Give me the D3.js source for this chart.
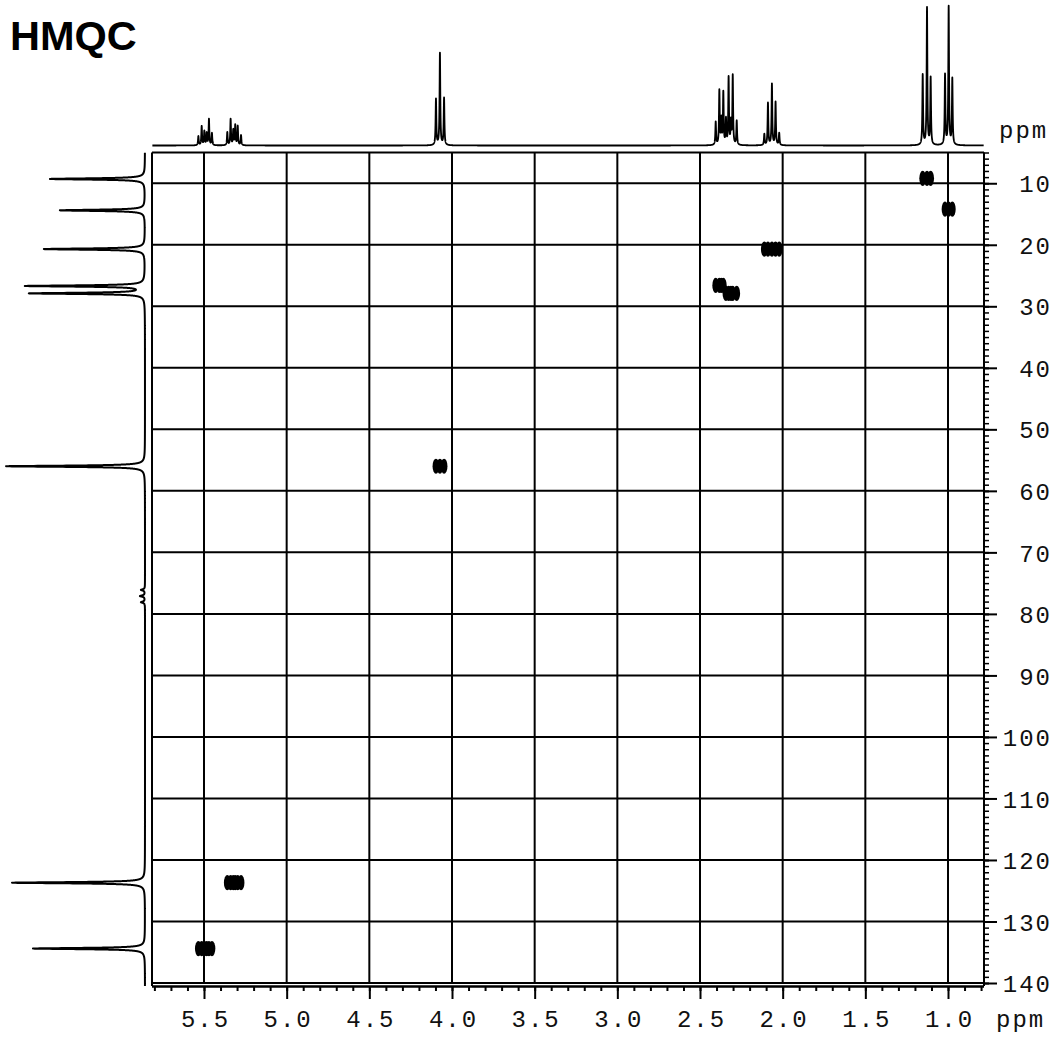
<!DOCTYPE html>
<html><head><meta charset="utf-8">
<script src="https://cdn.jsdelivr.net/npm/d3@7"></script>
<style>body{margin:0;background:#fff}</style>
</head><body>
<svg id="c" width="1064" height="1046"></svg>
<script>
// ---------------- DATA ----------------
const chartTitle = "HMQC";
const unitLabel = "ppm";
// 1H multiplets: line positions (ppm) and intensities
const h549Lines = [5.534, 5.514, 5.498, 5.484, 5.470, 5.452];
const h549Ints  = [9, 19, 14, 12, 26, 12];
const h533Lines = [5.359, 5.339, 5.323, 5.311, 5.296, 5.276];
const h533Ints  = [13, 26, 15, 20, 19, 10];
const h407Lines = [4.097, 4.073, 4.048];
const h407Ints  = [46, 92, 47];
const h238Lines = [2.405, 2.383, 2.371, 2.359];
const h238Ints  = [23, 54, 25, 52];
const h232Lines = [2.343, 2.327, 2.313, 2.302, 2.278];
const h232Ints  = [25, 67, 22, 69, 24];
const h206Lines = [2.111, 2.089, 2.065, 2.043, 2.021];
const h206Ints  = [11, 42, 61, 43, 12];
const h113Lines = [1.153, 1.127, 1.105];
const h113Ints  = [70, 137, 67];
const h099Lines = [1.018, 0.996, 0.974];
const h099Ints  = [70, 138, 66];
// 13C projection peaks
const c13Ppm = [9.3, 14.4, 20.7, 26.7, 27.9, 56.0, 76.1, 77.1, 78.1, 123.7, 134.4];
const c13Int = [95, 85, 101, 119, 115, 139, 4, 5, 4, 133, 112];
// HMQC cross peaks: proton multiplet & attached carbon shift
const crossProton = ["h549", "h533", "h407", "h238", "h232", "h206", "h113", "h099"];
const crossCarbon = [134.4, 123.7, 56.0, 26.6, 27.9, 20.7, 9.2, 14.2];
// axis ticks
const xMajorTicks = [5.5, 5.0, 4.5, 4.0, 3.5, 3.0, 2.5, 2.0, 1.5, 1.0];
const yMajorTicks = [10, 20, 30, 40, 50, 60, 70, 80, 90, 100, 110, 120, 130, 140];

const multiplets = {
  h549: [h549Lines, h549Ints], h533: [h533Lines, h533Ints], h407: [h407Lines, h407Ints],
  h238: [h238Lines, h238Ints], h232: [h232Lines, h232Ints], h206: [h206Lines, h206Ints],
  h113: [h113Lines, h113Ints], h099: [h099Lines, h099Ints]
};

// ---------------- LAYOUT ----------------
const svg = d3.select("#c");
const L = 152, R = 984, T = 152.5, B = 983;
const x = d3.scaleLinear().domain([5.8145, 0.7823]).range([L, R]);
const y = d3.scaleLinear().domain([5, 140]).range([T, B]);
const hInt = d3.scaleLinear().domain([0, 140]).range([145.5, 5.5]);
const cInt = d3.scaleLinear().domain([0, 140]).range([145, 5]);
const FONT = "'Liberation Mono','Courier New',monospace";

svg.append("rect").attr("width", 1064).attr("height", 1046).attr("fill", "#fff");

// title
svg.append("text").text(chartTitle).attr("x", 10).attr("y", 50)
  .attr("font-family", "'Liberation Sans',Arial,sans-serif").attr("font-weight", "bold")
  .attr("font-size", 41.5).attr("fill", "#000");

// ---- 1H projection (top) ----
const hLines = [], hInts = [];
Object.values(multiplets).forEach(([p, v]) => { hLines.push(...p); hInts.push(...v); });
const gH = 0.0025;
function hSpec(p) { let s = 0; for (let i = 0; i < hLines.length; i++) { const d = p - hLines[i]; s += hInts[i] * gH * gH / (d * d + gH * gH); } return s; }
let hPts = d3.range(x.domain()[1] + 0.002, x.domain()[0] - 0.002, 0.0004).concat(hLines);
hPts.sort((a, b) => a - b);
const hData = hPts.map(p => ({ p, v: hSpec(p) }));
svg.append("path").datum(hData)
  .attr("d", d3.line().x(d => x(d.p)).y(d => hInt(d.v)))
  .attr("fill", "none").attr("stroke", "#000").attr("stroke-width", 1.8).attr("stroke-linejoin", "round");

// ---- 13C projection (left) ----
const gC = 0.12;
function cSpec(p) { let s = 0; for (let i = 0; i < c13Ppm.length; i++) { const d = p - c13Ppm[i]; s += c13Int[i] * gC * gC / (d * d + gC * gC); } return s; }
let cPts = d3.range(5.05, 140.5, 0.005).concat(c13Ppm);
cPts.sort((a, b) => a - b);
const cData = cPts.map(p => ({ p, v: cSpec(p) }));
svg.append("path").datum(cData)
  .attr("d", d3.line().x(d => cInt(d.v)).y(d => y(d.p)))
  .attr("fill", "none").attr("stroke", "#000").attr("stroke-width", 2).attr("stroke-linejoin", "round");

// ---- grid ----
const grid = svg.append("g").attr("stroke", "#000").attr("stroke-width", 2);
grid.selectAll(".vg").data(xMajorTicks).join("line")
  .attr("x1", d => x(d)).attr("x2", d => x(d)).attr("y1", y(5)).attr("y2", y(140));
grid.selectAll(".hg").data(yMajorTicks).join("line")
  .attr("x1", L).attr("x2", R).attr("y1", d => y(d)).attr("y2", d => y(d));
// frame
grid.append("line").attr("x1", L).attr("x2", R).attr("y1", T).attr("y2", T);
grid.append("line").attr("x1", L).attr("x2", L).attr("y1", T).attr("y2", B + 3);
grid.append("line").attr("x1", R).attr("x2", R).attr("y1", T).attr("y2", B + 3);

// ---- bottom axis ----
const xMinor = d3.range(58, 7, -1).map(v => v / 10);
const axB = svg.append("g").attr("transform", `translate(0,${B + 3})`);
axB.call(d3.axisBottom(x).tickValues(xMinor).tickSize(5).tickFormat(""));
axB.append("g").call(d3.axisBottom(x).tickValues(xMajorTicks).tickSize(13).tickFormat(d3.format(".1f")));
axB.selectAll("path.domain").attr("stroke-width", 2).attr("d", `M${L},0.5H${R}`);
axB.selectAll(".tick line").attr("stroke", "#000").attr("stroke-width", 2);
axB.selectAll(".tick text").attr("y", 41).attr("dy", 0).attr("dx", 1).attr("font-family", FONT)
  .attr("font-size", 24).attr("letter-spacing", 2).attr("fill", "#111");
svg.append("text").text(unitLabel).attr("x", 996).attr("y", 1027)
  .attr("font-family", FONT).attr("font-size", 24).attr("letter-spacing", 2).attr("fill", "#111");

// ---- right axis ----
const yMinor = d3.range(5, 141, 1);
const axR = svg.append("g").attr("transform", `translate(${R},0)`);
axR.call(d3.axisRight(y).tickValues(yMinor).tickSize(5).tickFormat(""));
axR.append("g").call(d3.axisRight(y).tickValues(yMajorTicks).tickSize(13).tickFormat(d3.format("d")));
axR.selectAll("path.domain").remove();
axR.selectAll(".tick line").attr("stroke", "#000").attr("stroke-width", d => (yMajorTicks.includes(d) ? 2 : 1.5));
axR.selectAll(".tick text").attr("x", 68).attr("dy", "0.36em").attr("text-anchor", "end")
  .attr("font-family", FONT).attr("font-size", 24).attr("letter-spacing", 2).attr("fill", "#111");
svg.append("text").text(unitLabel).attr("x", 999).attr("y", 138)
  .attr("font-family", FONT).attr("font-size", 24).attr("letter-spacing", 2).attr("fill", "#111");

// ---- cross peaks ----
const blobs = [];
crossProton.forEach((k, i) => {
  const [lines] = multiplets[k];
  lines.forEach(p => blobs.push({ h: p, c: crossCarbon[i] }));
});
svg.append("g").selectAll("ellipse").data(blobs).join("ellipse")
  .attr("cx", d => x(d.h)).attr("cy", d => y(d.c)).attr("rx", 3.4).attr("ry", 7.6).attr("fill", "#000");
</script>
</body></html>
